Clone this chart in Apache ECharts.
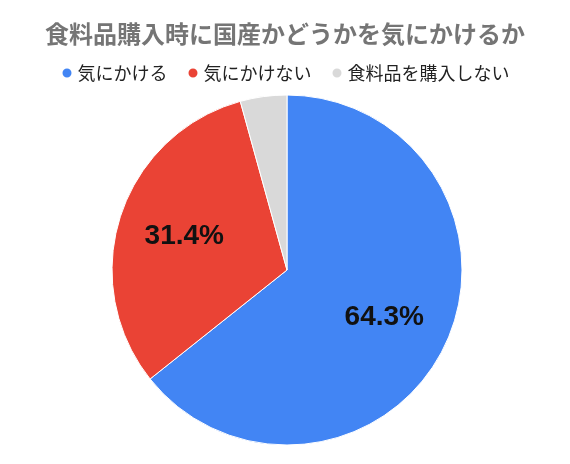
<!DOCTYPE html>
<html>
<head>
<meta charset="utf-8">
<script src="https://cdn.jsdelivr.net/npm/echarts@6/dist/echarts.min.js"></script>
<style>
  html, body { margin: 0; padding: 0; background: #fff; }
  #chart { width: 570px; height: 464px; }
</style>
</head>
<body>
<div id="chart"></div>
<script>
var titleText = '食料品購入時に国産かどうかを気にかけるか'
var categories = ['気にかける', '気にかけない', '食料品を購入しない']
var values = [64.3, 31.4, 4.3]
var colors = ['#4285F4', '#EA4335', '#D9D9D9']

var font = '"Noto Sans CJK JP", "Noto Sans", sans-serif'

var pieData = categories.map(function (name, i) {
  return { name: name, value: values[i], itemStyle: { color: colors[i] } }
})

var chart = echarts.init(document.getElementById('chart'))
chart.setOption({
  animation: false,
  color: colors,
  title: {
    text: titleText,
    left: 'center',
    top: 17,
    textStyle: { fontFamily: font, fontSize: 24, fontWeight: 'bold', color: '#757575' }
  },
  legend: {
    data: categories,
    top: 59,
    left: 'center',
    icon: 'circle',
    itemWidth: 11,
    itemHeight: 11,
    itemGap: 19,
    textStyle: { fontFamily: font, fontSize: 18, color: '#222' }
  },
  series: [
    {
      type: 'pie',
      center: [287, 270],
      radius: [0, 175],
      startAngle: 90,
      clockwise: true,
      silent: true,
      label: { show: false },
      labelLine: { show: false },
      itemStyle: { borderColor: '#fff', borderWidth: 1 },
      data: pieData
    },
    {
      // transparent ring only used to place the labels at ~60% of radius
      type: 'pie',
      center: [287, 270],
      radius: [0, 210],
      startAngle: 90,
      clockwise: true,
      silent: true,
      itemStyle: { color: 'transparent' },
      labelLine: { show: false },
      label: {
        show: true,
        position: 'inside',
        fontFamily: '"Liberation Sans", Arial, sans-serif',
        fontSize: 28,
        fontWeight: 'bold',
        color: '#111',
        formatter: function (p) {
          return p.value < 5 ? '' : p.value.toFixed(1) + '%'
        }
      },
      data: categories.map(function (name, i) {
        return { name: name, value: values[i] }
      })
    }
  ]
})
</script>
</body>
</html>
